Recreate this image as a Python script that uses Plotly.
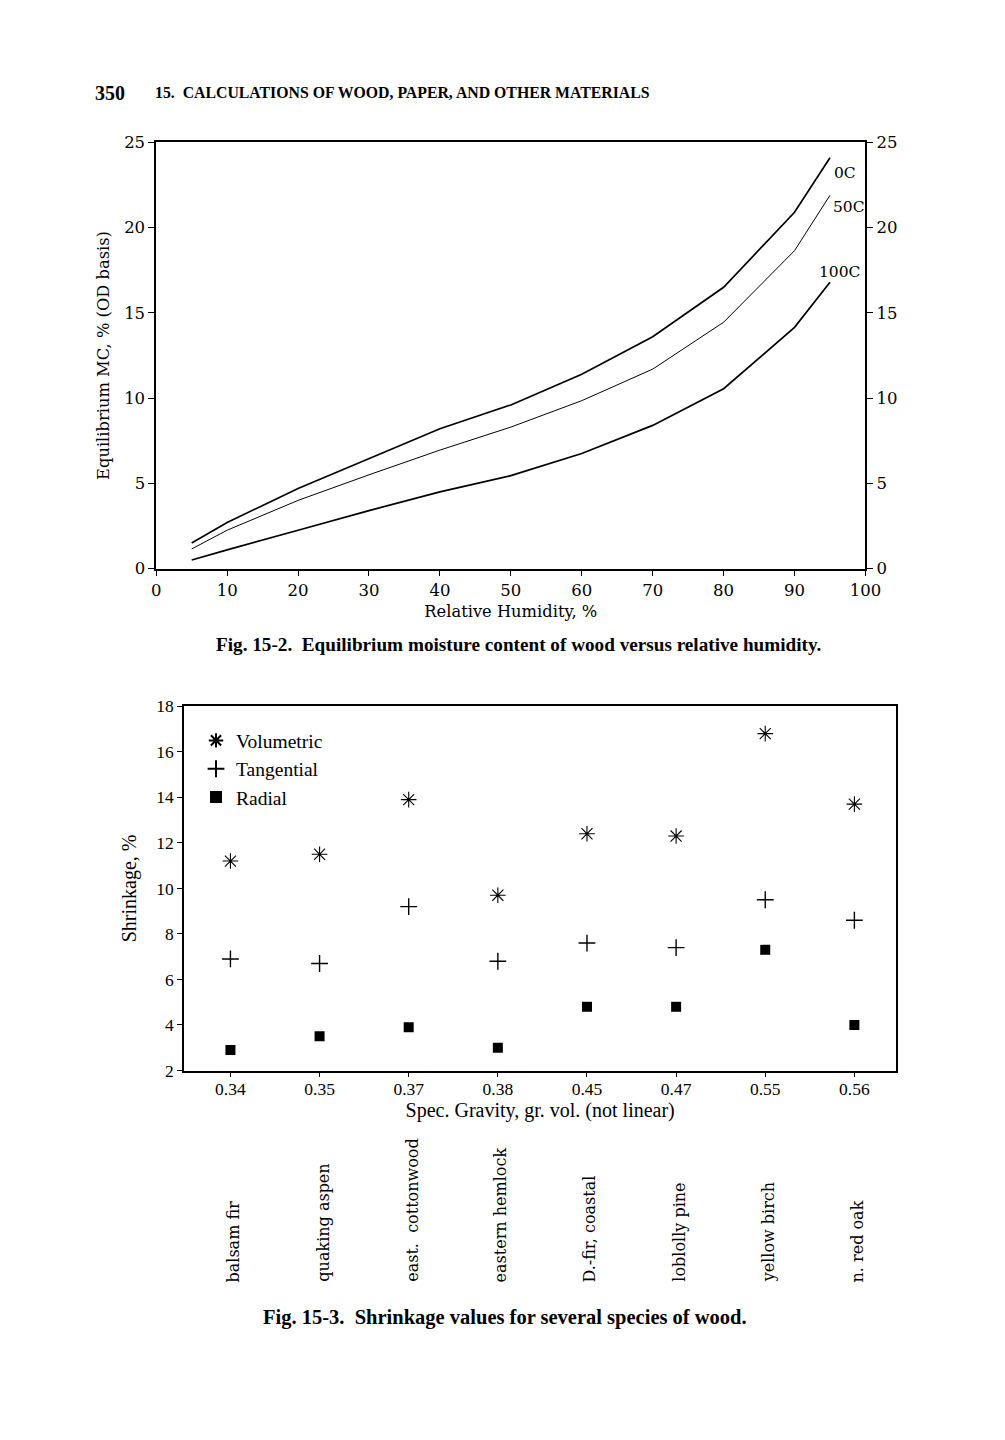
import plotly.graph_objects as go

# ---------------- Data: Fig. 15-2 ----------------
rh = [5, 10, 20, 30, 40, 50, 60, 70, 80, 90, 95]
emc_0c = [1.5, 2.7, 4.7, 6.45, 8.2, 9.6, 11.4, 13.6, 16.5, 20.9, 24.1]
emc_50c = [1.15, 2.25, 4.0, 5.5, 6.95, 8.3, 9.85, 11.7, 14.45, 18.65, 21.9]
emc_100c = [0.5, 1.1, 2.25, 3.4, 4.5, 5.45, 6.75, 8.4, 10.55, 14.15, 16.8]
curve_labels = ["0C", "50C", "100C"]
label_x = [95.3, 95.2, 96.4]
label_y = [23.2, 21.2, 17.4]
label_anchor = ["left", "left", "center"]

# ---------------- Data: Fig. 15-3 ----------------
spec_gravity = ["0.34", "0.35", "0.37", "0.38", "0.45", "0.47", "0.55", "0.56"]
species = ["balsam fir", "quaking aspen", "east.  cottonwood", "eastern hemlock",
           "D.-fir, coastal", "loblolly pine", "yellow birch", "n. red oak"]
volumetric = [11.2, 11.5, 13.9, 9.7, 12.4, 12.3, 16.8, 13.7]
tangential = [6.9, 6.7, 9.2, 6.8, 7.6, 7.4, 9.5, 8.6]
radial = [2.9, 3.5, 3.9, 3.0, 4.8, 4.8, 7.3, 4.0]

# page geometry
W, H = 989, 1424
TIMES = "Liberation Serif, Times New Roman, serif"
CENTURY = "DejaVu Serif, serif"


def px(x):
    return ((x - 11.0) / 0.984) / W


def py(y):
    return 1 - ((y - 16.3) / 0.988) / H


fig = go.Figure()

# Top chart curves
fig.add_trace(go.Scatter(x=rh, y=emc_0c, mode="lines", line=dict(color="black", width=1.7),
                         showlegend=False, xaxis="x", yaxis="y3", hoverinfo="skip"))
fig.add_trace(go.Scatter(x=rh, y=emc_50c, mode="lines", line=dict(color="black", width=1.0),
                         showlegend=False, xaxis="x", yaxis="y", hoverinfo="skip"))
fig.add_trace(go.Scatter(x=rh, y=emc_100c, mode="lines", line=dict(color="black", width=1.7),
                         showlegend=False, xaxis="x", yaxis="y", hoverinfo="skip"))

# Bottom chart markers
fig.add_trace(go.Scatter(x=spec_gravity, y=volumetric, mode="markers", name="Volumetric",
                         marker=dict(symbol="asterisk-open", size=13, color="black",
                                     line=dict(color="black", width=1.1)),
                         xaxis="x2", yaxis="y2"))
fig.add_trace(go.Scatter(x=spec_gravity, y=tangential, mode="markers", name="Tangential",
                         marker=dict(symbol="cross-thin-open", size=12, color="black",
                                     line=dict(color="black", width=1.4)),
                         xaxis="x2", yaxis="y2"))
fig.add_trace(go.Scatter(x=spec_gravity, y=radial, mode="markers", name="Radial",
                         marker=dict(symbol="square", size=10, color="black"),
                         xaxis="x2", yaxis="y2"))


def axis_style(font_family, font_size, ticklen=6):
    return dict(showgrid=False, zeroline=False, showline=True, linecolor="black",
                linewidth=1.6, ticks="outside", ticklen=ticklen, tickwidth=1.3,
                tickcolor="black",
                tickfont=dict(family=font_family, size=font_size, color="black"))


top_ax = axis_style(CENTURY, 16.5)
bot_ax = axis_style(TIMES, 17.5, ticklen=5)

fig.update_layout(
    width=W, height=H, autosize=False,
    margin=dict(l=0, r=0, t=0, b=0),
    paper_bgcolor="white", plot_bgcolor="white",
    font=dict(family=TIMES, color="black"),
    xaxis=dict(domain=[px(155), px(868)], range=[0, 100], tick0=0, dtick=10,
               anchor="y", mirror=True,
               title=dict(text="Relative Humidity, %",
                          font=dict(family=CENTURY, size=16.3, color="black"), standoff=6),
               **top_ax),
    yaxis=dict(domain=[py(568), py(141)], range=[0, 25], tick0=0, dtick=5,
               anchor="x",
               title=dict(text="Equilibrium MC, % (OD basis)",
                          font=dict(family=CENTURY, size=16.3, color="black"), standoff=10),
               **top_ax),
    yaxis3=dict(overlaying="y", side="right", anchor="x", range=[0, 25], tick0=0, dtick=5,
                **top_ax),
    xaxis2=dict(domain=[px(183), px(899)], range=[-0.52, 7.47], type="category",
                anchor="y2", mirror=True, ticklabelstandoff=-3,
                title=dict(text="Spec. Gravity, gr. vol. (not linear)",
                           font=dict(family=TIMES, size=20, color="black"), standoff=0),
                **bot_ax),
    yaxis2=dict(domain=[py(1071), py(706)], range=[2, 18], tick0=2, dtick=2,
                anchor="x2", mirror=True,
                title=dict(text="Shrinkage, %",
                           font=dict(family=TIMES, size=20, color="black"), standoff=14),
                **bot_ax),
    legend=dict(x=px(195), y=py(721), xanchor="left", yanchor="top",
                bgcolor="rgba(0,0,0,0)", font=dict(family=TIMES, size=19.5, color="black"),
                itemsizing="constant", itemwidth=30),
)

annotations = []
# curve labels
for t, lx, ly, anc in zip(curve_labels, label_x, label_y, label_anchor):
    annotations.append(dict(x=lx, y=ly, xref="x", yref="y", text=t, showarrow=False,
                            font=dict(family=CENTURY, size=15.5, color="black"),
                            xanchor=anc, yanchor="middle"))

# species labels (rotated), one per category position
for i, name in enumerate(species):
    annotations.append(dict(x=i, y=py(1285), xref="x2", yref="paper", text=name,
                            showarrow=False, textangle=-90, xshift=3,
                            font=dict(family=CENTURY, size=16, color="black"),
                            xanchor="center", yanchor="bottom"))

# header & captions
annotations.append(dict(x=px(91), y=py(91), xref="paper", yref="paper", text="<b>350</b>",
                        showarrow=False, xanchor="left", yanchor="middle",
                        font=dict(family=TIMES, size=20, color="black")))
annotations.append(dict(x=px(152), y=py(91), xref="paper", yref="paper",
                        text="<b>15.  CALCULATIONS OF WOOD, PAPER, AND OTHER MATERIALS</b>",
                        showarrow=False, xanchor="left", yanchor="middle",
                        font=dict(family=TIMES, size=15.8, color="black")))
annotations.append(dict(x=px(519), y=py(644), xref="paper", yref="paper",
                        text="<b>Fig. 15-2.  Equilibrium moisture content of wood versus relative humidity.</b>",
                        showarrow=False, xanchor="center", yanchor="middle",
                        font=dict(family=TIMES, size=19.2, color="black")))
annotations.append(dict(x=px(506), y=py(1318), xref="paper", yref="paper",
                        text="<b>Fig. 15-3.  Shrinkage values for several species of wood.</b>",
                        showarrow=False, xanchor="center", yanchor="middle",
                        font=dict(family=TIMES, size=20.5, color="black")))

fig.update_layout(annotations=annotations)

fig.write_html("out.html")
